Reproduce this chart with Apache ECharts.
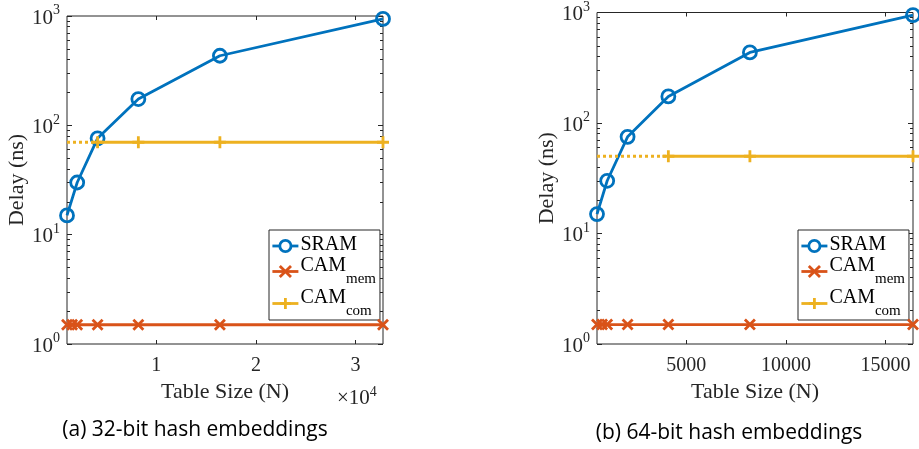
<!DOCTYPE html>
<html>
<head>
<meta charset="utf-8">
<script src="https://cdn.jsdelivr.net/npm/echarts@6/dist/echarts.min.js"></script>
<style>html,body{margin:0;padding:0;background:#fff}#c{width:919px;height:449px}</style>
</head>
<body>
<div id="c"></div>
<script>
// ---- data: panel (a) 32-bit ----
const sramXA = [1024, 2048, 4096, 8192, 16384, 32768];
const sramYA = [15, 30, 76, 174, 433, 940];
const memXA = [1024, 1536, 2048, 4096, 8192, 16384, 32768];
const memYA = [1.5, 1.5, 1.5, 1.5, 1.5, 1.5, 1.5];
const comXA = [4096, 8192, 16384, 32768];
const comYA = [70, 70, 70, 70];
const comDotXA = [1024, 4096];
const comDotYA = [70, 70];
const xTicksA = [10000, 20000, 30000];
// ---- data: panel (b) 64-bit ----
const sramXB = [512, 1024, 2048, 4096, 8192, 16384];
const sramYB = [15, 30, 75, 174, 435, 946];
const memXB = [512, 768, 1024, 2048, 4096, 8192, 16384];
const memYB = [1.5, 1.5, 1.5, 1.5, 1.5, 1.5, 1.5];
const comXB = [4096, 8192, 16384];
const comYB = [50, 50, 50];
const comDotXB = [512, 4096];
const comDotYB = [50, 50];
const xTicksB = [5000, 10000, 15000];
// ---- axis ticks ----
const yMajor = [1, 10, 100, 1000];
const yMinor = [2,3,4,5,6,7,8,9,20,30,40,50,60,70,80,90,200,300,400,500,600,700,800,900];
const captions = ['(a) 32-bit hash embeddings', '(b) 64-bit hash embeddings'];
const legendNames = ['SRAM', 'CAM_mem', 'CAM_com'];

const C_SRAM = '#0072BD', C_MEM = '#D95319', C_COM = '#EDB120', AX = '#262626';
const SERIF = '"Liberation Serif","DejaVu Serif",serif';
const LW = 2.8;
const zip = (xs, ys) => xs.map((x, i) => [x, ys[i]]);
const XPATH = 'path://M0,0L10,10M10,0L0,10';
const PPATH = 'path://M5,0L5,10M0,5L10,5';

const panels = [
  {grid:{left:67, top:16, width:316, height:328}, xmin:1024, xmax:32768, ticks:xTicksA, fmt:v => String(v/10000),
   sram:zip(sramXA,sramYA), mem:zip(memXA,memYA), com:zip(comXA,comYA), dot:zip(comDotXA,comDotYA)},
  {grid:{left:597, top:12, width:316, height:332}, xmin:512, xmax:16384, ticks:xTicksB, fmt:v => String(v),
   sram:zip(sramXB,sramYB), mem:zip(memXB,memYB), com:zip(comXB,comYB), dot:zip(comDotXB,comDotYB)}
];

const grids = [], xAxes = [], yAxes = [], series = [];
panels.forEach((p, gi) => {
  grids.push(Object.assign({show:true, borderColor:AX, borderWidth:1, backgroundColor:'#fff', containLabel:false}, p.grid));
  const xBase = {type:'value', gridIndex:gi, min:p.xmin, max:p.xmax, axisLine:{show:false}, splitLine:{show:false}};
  const xi = xAxes.length;
  xAxes.push(Object.assign({}, xBase, {position:'bottom',
    name:'Table Size (N)', nameLocation:'middle', nameGap:34,
    nameTextStyle:{fontFamily:SERIF, fontSize:22, color:AX},
    axisTick:{show:true, inside:true, length:4, customValues:p.ticks, lineStyle:{color:AX}},
    axisLabel:{show:true, customValues:p.ticks, formatter:p.fmt, margin:12, fontFamily:SERIF, fontSize:20, color:AX}}));
  xAxes.push(Object.assign({}, xBase, {position:'top',
    axisTick:{show:true, inside:true, length:4, customValues:p.ticks, lineStyle:{color:AX}},
    axisLabel:{show:false}}));
  const yBase = {type:'log', logBase:10, gridIndex:gi, min:1, max:1000, axisLine:{show:false}, splitLine:{show:false}};
  const yi = yAxes.length;
  yAxes.push(Object.assign({}, yBase, {position:'left',
    name:'Delay (ns)', nameLocation:'middle', nameGap:38,
    nameTextStyle:{fontFamily:SERIF, fontSize:22, color:AX},
    axisTick:{show:true, inside:true, length:5, customValues:yMajor, lineStyle:{color:AX}},
    axisLabel:{show:true, customValues:yMajor, margin:7, color:AX,
      formatter:v => '{b|10}{s|' + Math.round(Math.log10(v)) + '}',
      rich:{b:{fontFamily:SERIF, fontSize:21, color:AX, lineHeight:25, verticalAlign:'bottom'},
            s:{fontFamily:SERIF, fontSize:14, color:AX, lineHeight:25, verticalAlign:'top'}}}}));
  yAxes.push(Object.assign({}, yBase, {position:'left',
    axisTick:{show:true, inside:true, length:3, customValues:yMinor, lineStyle:{color:AX}}, axisLabel:{show:false}}));
  yAxes.push(Object.assign({}, yBase, {position:'right',
    axisTick:{show:true, inside:true, length:5, customValues:yMajor, lineStyle:{color:AX}}, axisLabel:{show:false}}));
  yAxes.push(Object.assign({}, yBase, {position:'right',
    axisTick:{show:true, inside:true, length:3, customValues:yMinor, lineStyle:{color:AX}}, axisLabel:{show:false}}));

  series.push({type:'line', name:'SRAM', xAxisIndex:xi, yAxisIndex:yi, data:p.sram, z:3,
    symbol:'circle', symbolSize:13, lineStyle:{color:C_SRAM, width:LW},
    itemStyle:{color:'rgba(255,255,255,0)', borderColor:C_SRAM, borderWidth:LW}});
  series.push({type:'line', name:'CAM_mem', xAxisIndex:xi, yAxisIndex:yi, data:p.mem, z:4,
    symbol:XPATH, symbolSize:10, lineStyle:{color:C_MEM, width:LW},
    itemStyle:{color:C_MEM, borderColor:C_MEM, borderWidth:LW}});
  series.push({type:'line', name:'CAM_com_dot', xAxisIndex:xi, yAxisIndex:yi, data:p.dot, z:5,
    showSymbol:false, symbol:'none', lineStyle:{color:C_COM, width:LW, type:[3,3]}});
  series.push({type:'line', name:'CAM_com', xAxisIndex:xi, yAxisIndex:yi, data:p.com, z:5,
    symbol:PPATH, symbolSize:12, lineStyle:{color:C_COM, width:LW},
    itemStyle:{color:C_COM, borderColor:C_COM, borderWidth:LW}});
});

const legendData = [
  {name:'SRAM', itemStyle:{color:'#fff', borderColor:C_SRAM, borderWidth:LW}, lineStyle:{color:C_SRAM, width:LW}},
  {name:'CAM_mem', itemStyle:{color:C_MEM, borderColor:C_MEM, borderWidth:LW}, lineStyle:{color:C_MEM, width:LW}},
  {name:'CAM_com', itemStyle:{color:C_COM, borderColor:C_COM, borderWidth:LW}, lineStyle:{color:C_COM, width:LW}}
];
const legendRich = {
  n:{fontFamily:SERIF, fontSize:20, color:'#000', lineHeight:22, verticalAlign:'top'},
  s:{fontFamily:SERIF, fontSize:15, color:'#000', lineHeight:31, verticalAlign:'bottom'}
};
const legendFmt = name => {
  if (name === 'SRAM') return '{n|SRAM}';
  const parts = name.split('_');
  return '{n|' + parts[0] + '}{s|' + parts[1] + '}';
};
const mkLegend = (left, top) => ({
  left, top, orient:'vertical', data:legendData, itemWidth:26, itemHeight:14, itemGap:1,
  borderColor:AX, borderWidth:1, backgroundColor:'#fff', padding:[5,4,1,2],
  formatter:legendFmt, textStyle:{rich:legendRich, padding:[0,0,0,-3]}, selectedMode:false
});

const chart = echarts.init(document.getElementById('c'), null, {renderer:'canvas'});
chart.setOption({
  animation:false,
  grid:grids, xAxis:xAxes, yAxis:yAxes, series,
  legend:[mkLegend(269, 230), mkLegend(798, 230)],
  graphic:[
    {type:'text', left:337, top:385, style:{text:'{a|×10}{b|4}', rich:{
      a:{fontFamily:SERIF, fontSize:21, fill:AX, lineHeight:24, verticalAlign:'bottom'},
      b:{fontFamily:SERIF, fontSize:14, fill:AX, lineHeight:24, verticalAlign:'top'}}}},
    {type:'text', x:195, y:430, style:{text:captions[0], fontFamily:'"Open Sans",sans-serif', fontSize:21, fill:'#000', align:'center', verticalAlign:'middle'}},
    {type:'text', x:729, y:433, style:{text:captions[1], fontFamily:'"Open Sans",sans-serif', fontSize:21, fill:'#000', align:'center', verticalAlign:'middle'}}
  ]
});
</script>
</body>
</html>
